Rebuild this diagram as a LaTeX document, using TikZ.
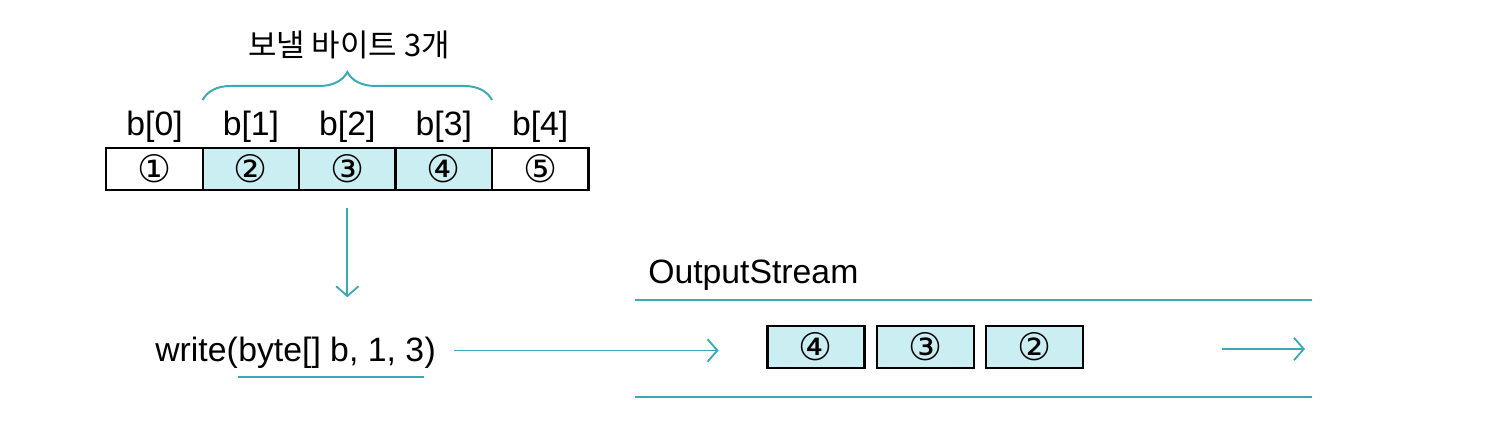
\documentclass[tikz,border=0pt]{standalone}
\usepackage{fontspec}
\setmainfont{Liberation Sans}
\newfontfamily\krfont{Noto Sans CJK KR}
\newfontfamily\symfont{DejaVu Sans}
\usetikzlibrary{arrows.meta,positioning,decorations.pathreplacing}
\definecolor{streamline}{HTML}{3AAAB6}
\definecolor{bytefill}{HTML}{CBEEF2}
\tikzset{
  cell/.style={
    rectangle, draw=black, line width=1.6pt,
    minimum width=2.41cm, minimum height=1.05cm,
    inner sep=0pt, outer sep=0pt,
    font=\symfont\fontsize{27}{27}\selectfont
  },
  sel/.style={cell, fill=bytefill},
  packet/.style={cell, fill=bytefill, minimum width=2.43cm},
  lbl/.style={font=\fontsize{24}{28}\selectfont, inner sep=0pt},
  arr/.style={-{Straight Barb[length=7pt,width=16pt]}, line width=1.3pt, draw=streamline},
  rail/.style={line width=1.4pt, draw=streamline},
}
\begin{document}
\begin{tikzpicture}[x=0.025cm, y=0.025cm]
  \useasboundingbox (0,0) rectangle (1494,446);

  % the byte array
  \node[cell] (c0) at (154.5,277) {①};
  \node[sel, right=0pt of c0] (c1) {②};
  \node[sel, right=0pt of c1] (c2) {③};
  \node[sel, right=0pt of c2] (c3) {④};
  \node[cell, right=0pt of c3] (c4) {⑤};

  \node[lbl, above=4pt of c0] (l0) {b[0]};
  \node[lbl, above=4pt of c1] (l1) {b[1]};
  \node[lbl, above=4pt of c2] (l2) {b[2]};
  \node[lbl, above=4pt of c3] (l3) {b[3]};
  \node[lbl, above=4pt of c4] (l4) {b[4]};

  % bytes to send
  \draw[rail, decorate, decoration={brace, amplitude=0.7cm}]
    ([yshift=1.2cm]c1.north west) -- ([yshift=1.2cm]c3.north east);
  \node[lbl, font=\krfont\fontsize{22}{24}\selectfont] (title) at (349,401) {보낼 바이트 3개};

  % the call
  \node[lbl, anchor=base west] (wfn) at (155,84) {write(};
  \node[lbl, anchor=base west] (wargs) at (wfn.base east) {byte[] b, 1, 3};
  \node[lbl, anchor=base west] (wclose) at (wargs.base east) {)};
  \draw[rail] ([yshift=-0.2cm]wargs.south west) -- ([yshift=-0.2cm]wargs.south east);

  % the stream
  \node[lbl, anchor=base west] (oslabel) at (648,162) {OutputStream};
  \draw[rail] (635,146) -- (1312,146);
  \draw[rail] (635,49) -- (1312,49);

  \node[packet] (q4) at (816,99) {④};
  \node[packet, right=0.3cm of q4] (q3) {③};
  \node[packet, right=0.3cm of q3] (q2) {②};

  \coordinate (outa) at (1222,97);
  \coordinate (outb) at (1305,97);

  % Arrows
  \draw[arr, shorten <=0.45cm, shorten >=1cm] (c2.south) -- (c2.south |- wargs.north);
  \draw[arr, shorten <=0.45cm, shorten >=1.22cm] ([yshift=2pt]wclose.east) -- ([yshift=2pt]wclose.east -| q4.west);
  \draw[arr] (outa) -- (outb);

\end{tikzpicture}
\end{document}
